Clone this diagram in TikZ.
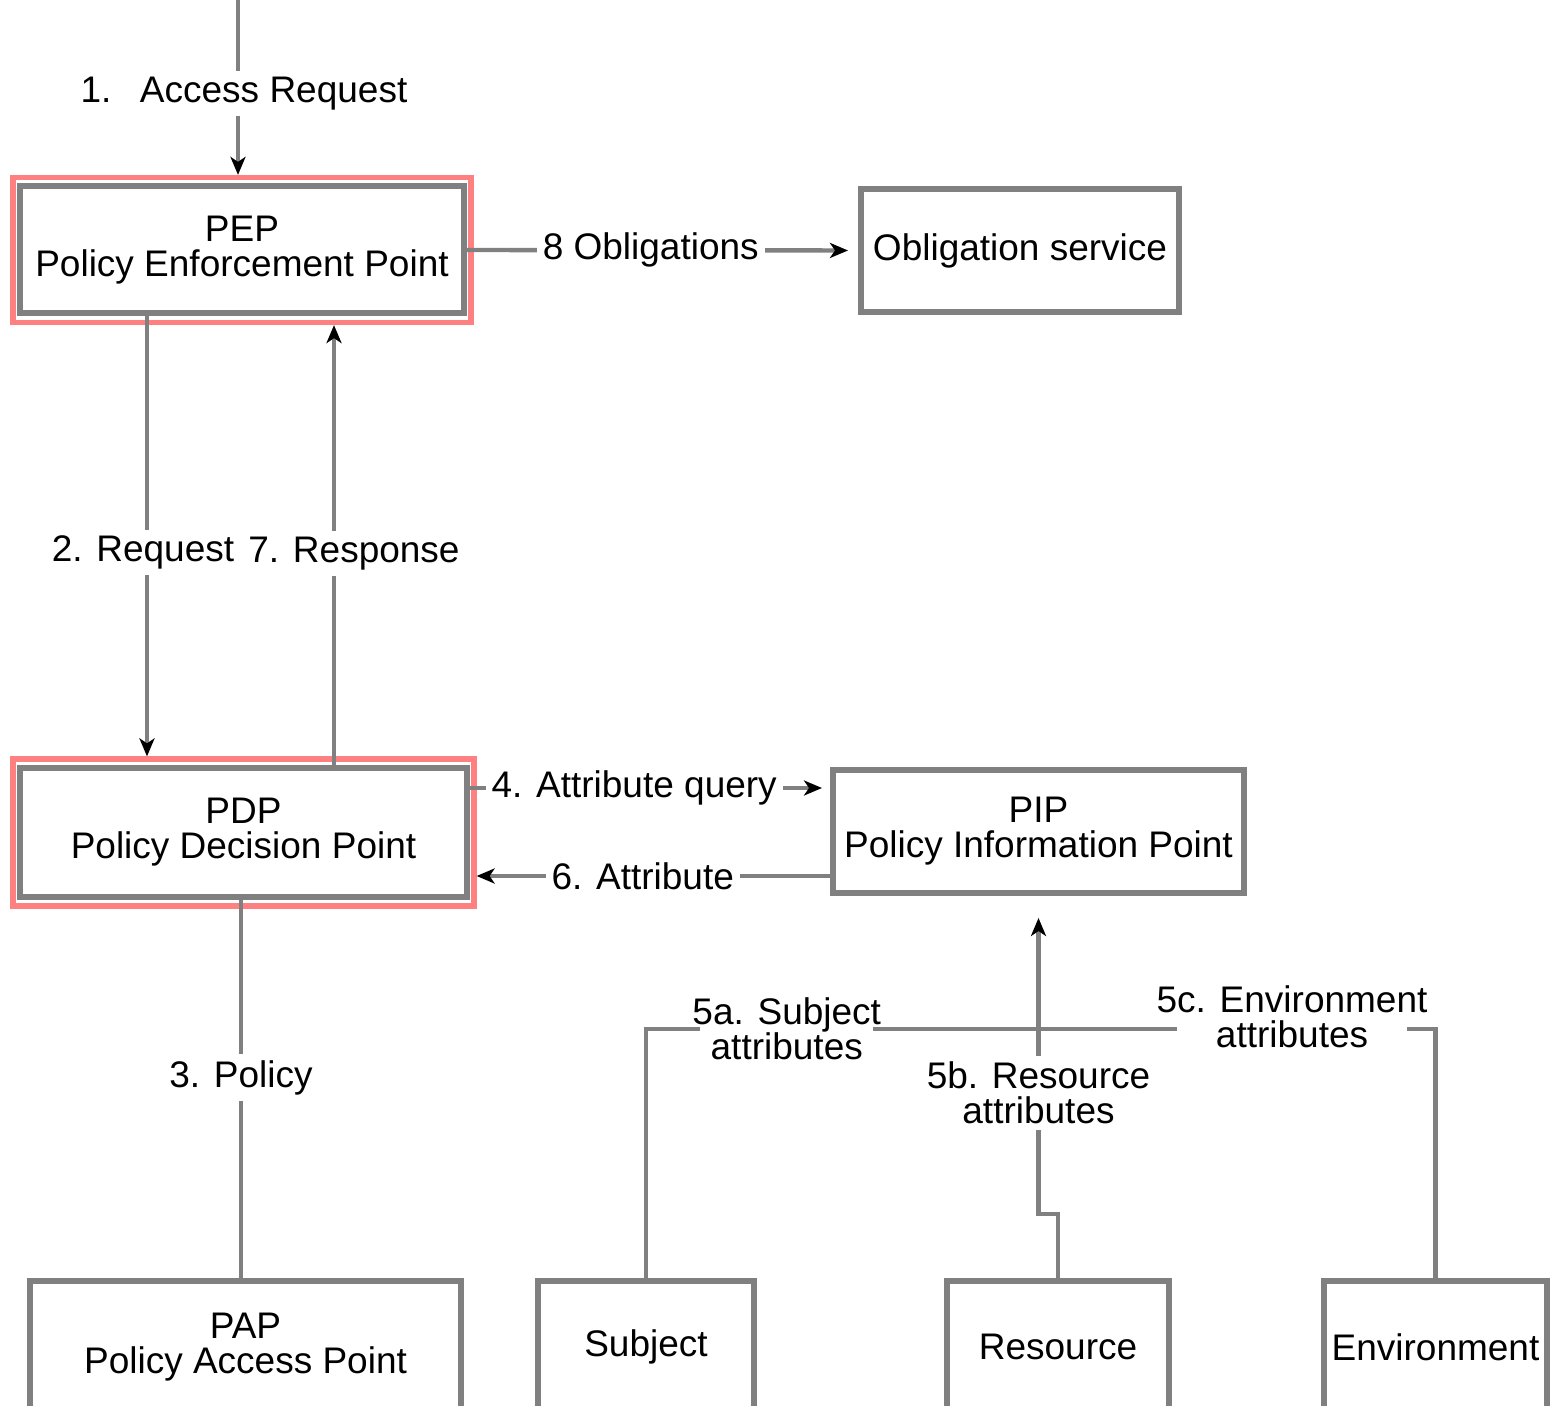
\documentclass[tikz,border=0pt]{standalone}
\usepackage{fontspec}
\setmainfont{Liberation Sans}
\usetikzlibrary{arrows.meta,fit}
\definecolor{linegray}{RGB}{128,128,128}
\definecolor{framered}{RGB}{255,128,128}

\begin{document}
\begin{tikzpicture}[x=0.5pt,y=-0.5pt,
    txt/.style={font=\fontsize{18.5}{17.5}\selectfont, align=center},
    box/.style={txt, draw=linegray, line width=3pt, inner sep=0pt},
    redframe/.style={draw=framered, line width=2.6pt, inner xsep=2pt, inner ysep=3pt},
    conn/.style={draw=linegray, line width=2.2pt},
    arr/.style={conn, -{Stealth[length=9pt,width=7.5pt,inset=2.5pt,color=black]}},
    lbl/.style={txt, fill=white, inner xsep=3pt, inner ysep=3pt}]
    \useasboundingbox (0,0) rectangle (1552,1406);
    \clip (0,0) rectangle (1552,1406);

    \node[box, minimum width=222pt, minimum height=63.5pt] (pep) at (242,250) {PEP\\Policy Enforcement Point};
    \node[box, minimum width=159pt, minimum height=61.5pt] (obls) at (1020,250.5) {Obligation service};
    \node[box, minimum width=223.5pt, minimum height=64.5pt] (pdp) at (243.5,832.5) {PDP\\Policy Decision Point};
    \node[box, minimum width=205.5pt, minimum height=61.5pt] (pip) at (1038.5,831.5) {PIP\\Policy Information Point};
    \node[box, minimum width=215.5pt, minimum height=66pt] (pap) at (245.5,1347) {PAP\\Policy Access Point};
    \node[box, minimum width=108pt, minimum height=66pt] (subj) at (646,1347) {Subject};
    \node[box, minimum width=111pt, minimum height=66pt] (res) at (1058,1347) {Resource};
    \node[box, minimum width=111.5pt, minimum height=66pt] (env) at (1435.5,1347) {Environment};
    \node[redframe, fit=(pep)] (pepf) {};
    \node[redframe, fit=(pdp)] (pdpf) {};

    \coordinate (in) at (238,0);
    \coordinate (req) at (147,0);
    \coordinate (resp) at (334,0);
    \coordinate (pol) at (241,0);
    \coordinate (query) at (0,788);
    \coordinate (attr) at (0,876);
    \coordinate (bus) at (1037,1029);

    \draw[arr] (in) -- (in |- pepf.north) node[lbl, midway, xshift=3pt, yshift=-3pt] {1.\hspace{0.4em} Access Request};
    \draw[arr, shorten >=5pt] (pep.east) -- (obls.west) node[lbl, pos=0.47] {8 Obligations};
    \draw[arr] (req |- pep.south) -- (req |- pdpf.north) node[lbl, pos=0.536, xshift=-2pt] {2. Request};
    \draw[arr] (resp |- pdp.north) -- (resp |- pepf.south) node[lbl, pos=0.48, xshift=10pt] {7. Response};
    \draw[arr, shorten >=4pt] (query -| pdp.east) -- (query -| pip.west) node[lbl, pos=0.456] {4. Attribute query};
    \draw[arr] (attr -| pip.west) -- (attr -| pdpf.east) node[lbl, pos=0.53] {6. Attribute};
    \draw[conn] (pol |- pdp.south) -- (pol |- pap.north) node[lbl, pos=0.47] {3. Policy};
    \draw[conn] (subj.north) |- (bus) node[lbl, pos=0.68, inner xsep=-4pt] {5a. Subject\\attributes};
    \draw[conn] (bus) -| (env.north) node[lbl, pos=0.32, yshift=6pt, inner xsep=-10pt] {5c. Environment\\attributes};
    \draw[arr, shorten >=11pt] (res.north) -- ++(0,-64) -| (pip.south) node[lbl, pos=0.69] {5b. Resource\\attributes};
\end{tikzpicture}
\end{document}
